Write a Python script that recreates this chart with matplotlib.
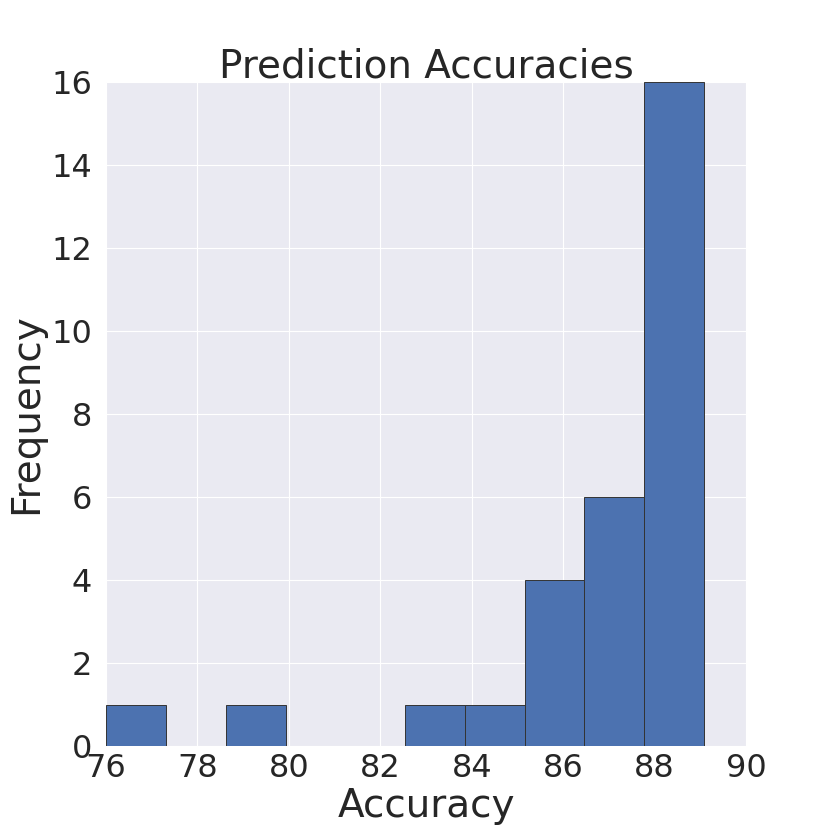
import numpy as np
import matplotlib
matplotlib.use("Agg")
import matplotlib.pyplot as plt
import seaborn as sns

# histogram
bin_edges = [76.0, 77.31, 78.62, 79.93, 81.23, 82.54, 83.85, 85.16, 86.46, 87.77, 89.08]
counts = [1, 0, 1, 0, 0, 1, 1, 4, 6, 16]
x_ticks = [76, 78, 80, 82, 84, 86, 88, 90]
y_ticks = [0, 2, 4, 6, 8, 10, 12, 14, 16]

sns.set_style("darkgrid")
plt.rcParams["font.family"] = ["DejaVu Sans"]

fig = plt.figure(figsize=(8.3, 8.3), dpi=100)
ax = fig.add_axes([0.1277, 0.1012, 0.7711, 0.8])

ax.hist(bin_edges[:-1], bins=bin_edges, weights=counts,
        color="#4C72B0", edgecolor="#333333", linewidth=0.7)

ax.set_xlim(76, 90)
ax.set_ylim(0, 16)
ax.set_xticks(x_ticks)
ax.set_yticks(y_ticks)
ax.tick_params(labelsize=23, colors="#262626", length=0)
ax.tick_params(axis="x", pad=5)
ax.tick_params(axis="y", pad=10)
ax.set_xlabel("Accuracy", fontsize=28, color="#262626", labelpad=2)
ax.set_ylabel("Frequency", fontsize=28, color="#262626", labelpad=4)
ax.set_title("Prediction Accuracies", fontsize=28, color="#262626", pad=3)
for s in ax.spines.values():
    s.set_visible(False)

fig.savefig("out.png", dpi=100)
